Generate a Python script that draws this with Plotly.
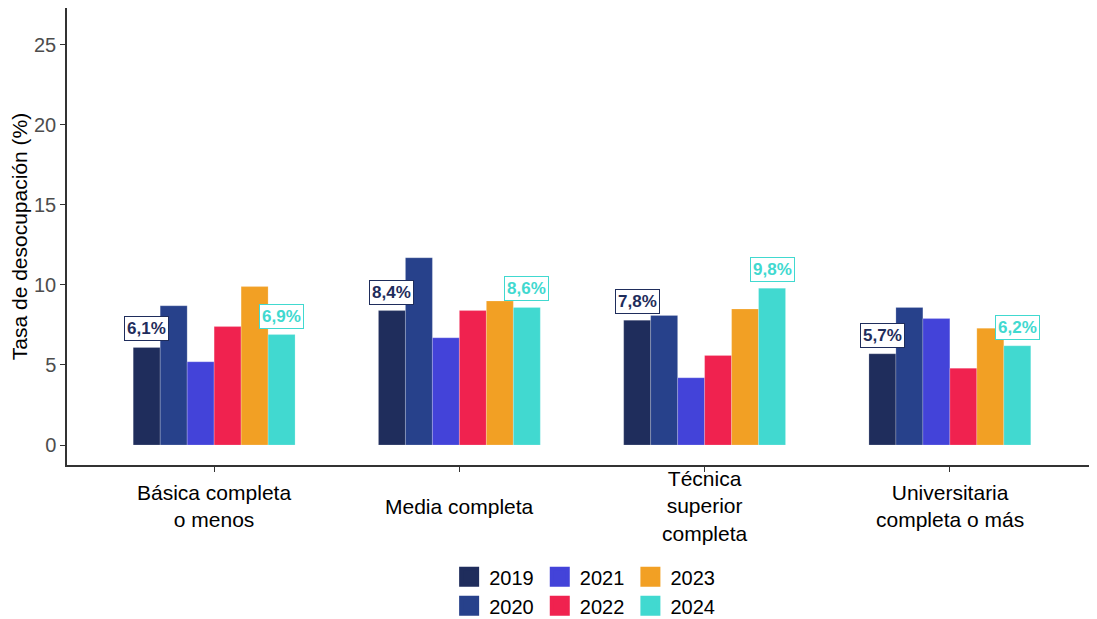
import plotly.graph_objects as go

categories = ["Básica completa<br>o menos", "Media completa", "Técnica<br>superior<br>completa", "Universitaria<br>completa o más"]
years = ["2019", "2020", "2021", "2022", "2023", "2024"]
colors = ["#1f2d5c", "#27418b", "#4343d9", "#f0224f", "#f2a024", "#41d9d0"]
values = {
    "2019": [6.1, 8.4, 7.8, 5.7],
    "2020": [8.7, 11.7, 8.1, 8.6],
    "2021": [5.2, 6.7, 4.2, 7.9],
    "2022": [7.4, 8.4, 5.6, 4.8],
    "2023": [9.9, 9.0, 8.5, 7.3],
    "2024": [6.9, 8.6, 9.8, 6.2],
}
labelled_years = ["2019", "2024"]
y_ticks = [0, 5, 10, 15, 20, 25]

FONT = "Liberation Sans, Arial, sans-serif"
bargap = 0.34
n = len(years)
bw = (1 - bargap) / n
xs = list(range(len(categories)))

fig = go.Figure()
legend_ids = ["legend", "legend", "legend2", "legend2", "legend3", "legend3"]
for k, (yr, col) in enumerate(zip(years, colors)):
    fig.add_trace(go.Bar(
        x=xs, y=values[yr], name=yr, showlegend=False, offsetgroup=yr,
        marker=dict(color=col, line=dict(color="rgba(255,255,255,0.4)", width=0.5)),
    ))
for k, (yr, col) in enumerate(zip(years, colors)):
    # legend-only entry (bigger square key)
    fig.add_trace(go.Scatter(
        x=[None], y=[None], mode="markers", name=yr, legend=legend_ids[k],
        marker=dict(symbol="square", size=16, color=col, line=dict(color=col, width=4)),
    ))

annotations = []
for k, yr in enumerate(years):
    if yr not in labelled_years:
        continue
    col = colors[k]
    for i, v in enumerate(values[yr]):
        annotations.append(dict(
            x=i - (1 - bargap) / 2 + (k + 0.5) * bw, y=v, xref="x", yref="y",
            text="<b>" + f"{v:.1f}".replace(".", ",") + "%</b>",
            showarrow=False, yanchor="bottom", yshift=6,
            font=dict(family=FONT, size=17, color=col),
            bgcolor="white", bordercolor=col, borderwidth=1, borderpad=2,
        ))
for i, c in enumerate(categories):
    annotations.append(dict(
        x=i, y=0, xref="x", yref="paper", text=c, showarrow=False,
        yanchor="middle", yshift=-41, font=dict(family=FONT, size=21, color="black"),
    ))

leg_common = dict(orientation="v", y=0.101, yref="container", xanchor="left", yanchor="top",
                  font=dict(size=20, color="black"), tracegroupgap=0, itemwidth=30,
                  itemsizing="trace")
fig.update_layout(
    width=1089, height=611,
    margin=dict(l=59, r=0, t=0, b=154),
    plot_bgcolor="white", paper_bgcolor="white",
    barmode="group", bargap=bargap, bargroupgap=0,
    font=dict(family=FONT, size=18, color="black"),
    annotations=annotations,
    xaxis=dict(range=[-0.6, 3.6], tickvals=xs, showticklabels=False, ticks="outside",
               ticklen=5, tickcolor="#333333", showline=True, linecolor="#333333", linewidth=1.5,
               showgrid=False, zeroline=False),
    yaxis=dict(range=[-1.25, 27.31], tickvals=y_ticks, ticks="outside", ticklen=5,
               tickcolor="#333333", showline=True, linecolor="#333333", linewidth=1.5,
               showgrid=False, zeroline=False, tickfont=dict(size=20, color="#4d4d4d"),
               title=dict(text="Tasa de desocupación (%)", font=dict(size=21, color="black"), standoff=7)),
    legend=dict(x=0.371, **leg_common),
    legend2=dict(x=0.459, **leg_common),
    legend3=dict(x=0.547, **leg_common),
)

fig.write_html("out.html")
